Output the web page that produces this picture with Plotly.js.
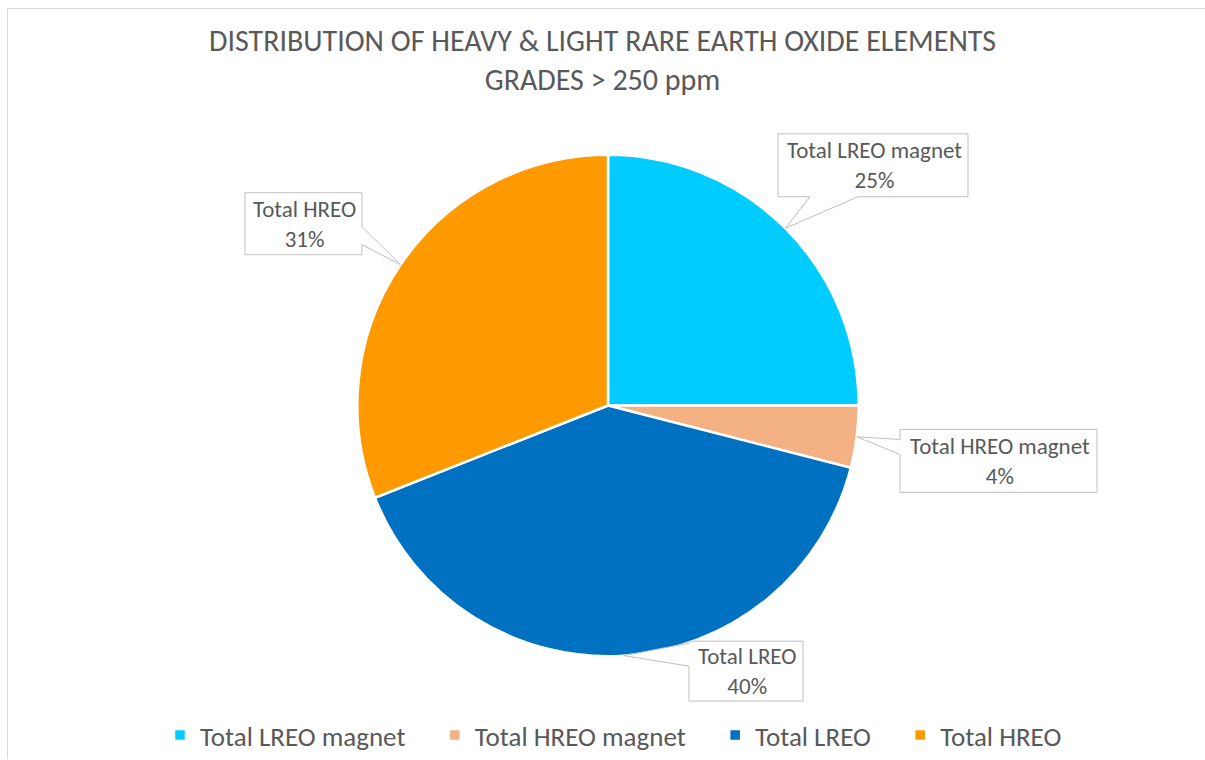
<!DOCTYPE html>
<html>
<head>
<meta charset="utf-8">
<script src="https://cdn.plot.ly/plotly-3.0.1.min.js"></script>
<style>
  html, body { margin: 0; padding: 0; background: #ffffff; }
  #chart { width: 1205px; height: 760px; }
</style>
</head>
<body>
<div id="chart"></div>
<script>
// Rare earth oxide distribution (grades > 250 ppm)
const labels = ['Total LREO magnet', 'Total HREO magnet', 'Total LREO', 'Total HREO'];
const shares = [25, 4, 40, 31];
const colors = ['#00CCFF', '#F4B183', '#0070C0', '#FF9900'];

const W = 1205, H = 760;
const FONT = 'Carlito, Calibri, Lato, sans-serif';
const TEXT = '#595959';
const EDGE = '#bfbfbf';

// Pie placement in pixels (layout only)
const cx = 608, cy = 406, r = 251;

// Callout boxes: box edges in px, side carrying the pointer, pointer base span
const callouts = [
  { box: [778, 968, 134, 197], side: 'bottom', base: [810, 858] },
  { box: [900, 1097, 430, 493], side: 'left', base: [440, 455] },
  { box: [689, 803, 642, 702], side: 'left', base: [644, 667] },
  { box: [245, 362, 193, 255], side: 'right', base: [227, 245] }
];

const px = x => x / W;
const py = y => 1 - y / H;

// Tip of each pointer: mid-angle of the slice on the pie rim (clockwise from 12 o'clock)
const total = shares.reduce((a, b) => a + b, 0);
let cum = 0;
const tips = shares.map(v => {
  const th = 2 * Math.PI * (cum + v / 2) / total;
  cum += v;
  return [cx + r * Math.sin(th), cy - r * Math.cos(th)];
});

function calloutPath(c, tip) {
  const [x0, x1, y0, y1] = c.box;
  const [b1, b2] = c.base;
  let pts;
  if (c.side === 'bottom') {
    pts = [[x0, y0], [x1, y0], [x1, y1], [b2, y1], tip, [b1, y1], [x0, y1]];
  } else if (c.side === 'left') {
    pts = [[x0, y0], [x1, y0], [x1, y1], [x0, y1], [x0, b2], tip, [x0, b1]];
  } else if (c.side === 'right') {
    pts = [[x0, y0], [x1, y0], [x1, b1], tip, [x1, b2], [x1, y1], [x0, y1]];
  } else {
    pts = [[x0, y0], [b1, y0], tip, [b2, y0], [x1, y0], [x1, y1], [x0, y1]];
  }
  return 'M' + pts.map(p => px(p[0]).toFixed(5) + ',' + py(p[1]).toFixed(5)).join('L') + 'Z';
}

const shapes = [
  // outer frame lines
  { type: 'line', xref: 'paper', yref: 'paper', x0: px(7.5), x1: px(7.5), y0: py(8), y1: 0,
    line: { color: '#d9d9d9', width: 1 } },
  { type: 'line', xref: 'paper', yref: 'paper', x0: px(7), x1: 1, y0: py(8.5), y1: py(8.5),
    line: { color: '#d9d9d9', width: 1 } }
];
const annotations = [];

callouts.forEach((c, i) => {
  shapes.push({
    type: 'path', xref: 'paper', yref: 'paper', layer: 'above',
    path: calloutPath(c, tips[i]),
    fillcolor: '#ffffff',
    line: { color: EDGE, width: 1 }
  });
  const [x0, x1, y0, y1] = c.box;
  annotations.push({
    xref: 'paper', yref: 'paper',
    x: px((x0 + x1) / 2 + 1), y: py((y0 + y1) / 2),
    xanchor: 'center', yanchor: 'middle',
    showarrow: false,
    text: labels[i] + '<br>' + shares[i] + '%',
    font: { family: FONT, size: 23, color: TEXT }
  });
});

// Legend entries carry a little trailing space so the items sit further apart
const legendPad = '\u00a0\u00a0\u00a0\u00a0';

const data = [{
  type: 'pie',
  labels: labels.map(l => l + legendPad),
  values: shares,
  sort: false,
  direction: 'clockwise',
  rotation: 0,
  marker: { colors: colors, line: { color: '#ffffff', width: 2.5 } },
  textinfo: 'none',
  hoverinfo: 'label+percent',
  domain: { x: [px(cx - r), px(cx + r)], y: [py(cy + r), py(cy - r)] }
}];

const layout = {
  width: W, height: H,
  margin: { l: 0, r: 0, t: 0, b: 0 },
  paper_bgcolor: '#ffffff',
  title: {
    text: 'DISTRIBUTION OF HEAVY &amp; LIGHT RARE EARTH OXIDE ELEMENTS<br>GRADES &gt; 250 ppm',
    font: { family: FONT, size: 30, color: TEXT },
    x: 0.5, xanchor: 'center',
    yref: 'container', y: py(51), yanchor: 'middle'
  },
  showlegend: true,
  legend: {
    orientation: 'h',
    x: px(160), xanchor: 'left',
    y: py(736), yanchor: 'middle',
    font: { family: FONT, size: 27, color: TEXT },
    traceorder: 'normal'
  },
  shapes: shapes,
  annotations: annotations
};

Plotly.newPlot('chart', data, layout, { staticPlot: true });
</script>
</body>
</html>
